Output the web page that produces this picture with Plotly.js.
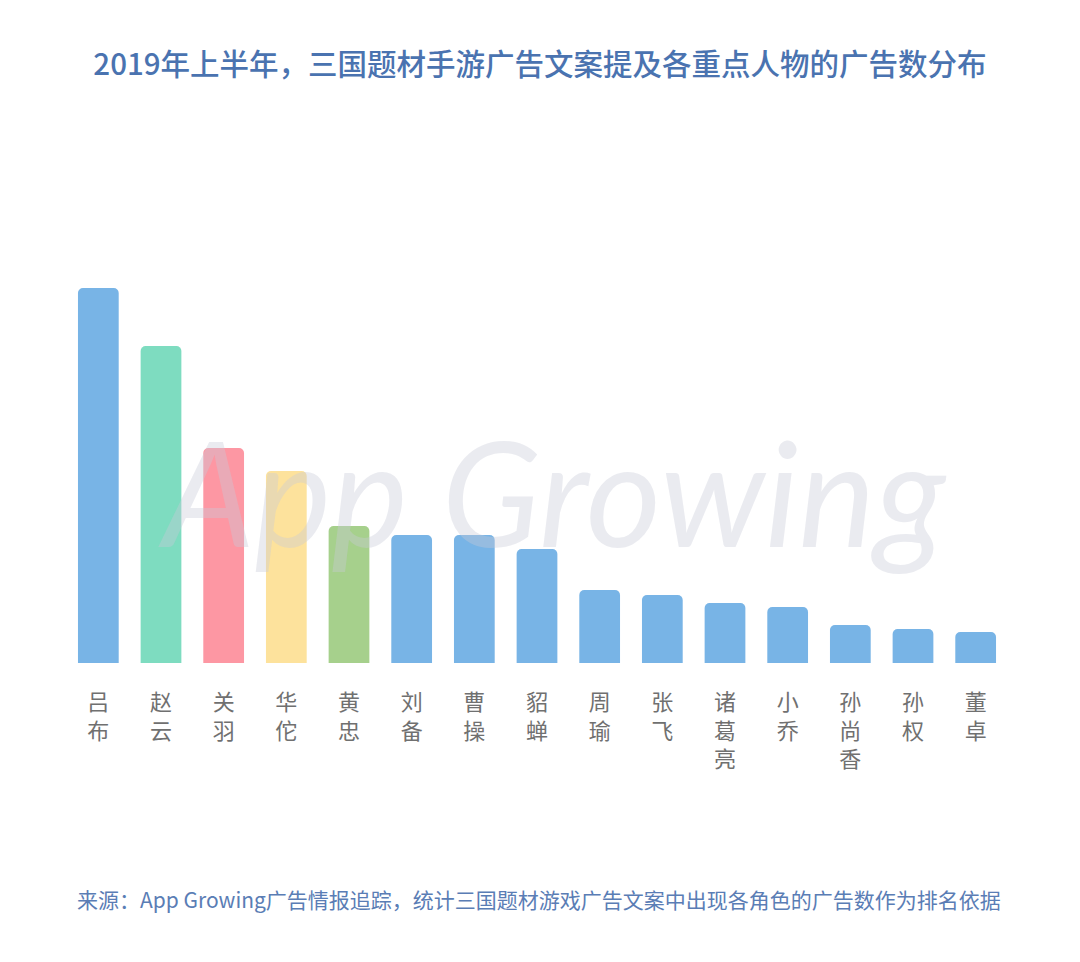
<!DOCTYPE html>
<html>
<head>
<meta charset="utf-8">
<script src="https://cdn.plot.ly/plotly-3.0.1.min.js"></script>
<style>
html,body{margin:0;padding:0;background:#fff;}
#chart{width:1080px;height:962px;}
</style>
</head>
<body>
<div id="chart"></div>
<script>
// Data (relative ad counts)
var characters = ["吕布","赵云","关羽","华佗","黄忠","刘备","曹操","貂蝉","周瑜","张飞","诸葛亮","小乔","孙尚香","孙权","董卓"];
var adCounts = [375, 317, 215, 192, 137, 128, 128, 114, 73, 68, 60, 56, 38, 34, 31];
var barColors = ["#78b4e6","#7edcc0","#fd97a3","#fde29c","#a6d08c","#78b4e6","#78b4e6","#78b4e6","#78b4e6","#78b4e6","#78b4e6","#78b4e6","#78b4e6","#78b4e6","#78b4e6"];
var titleText = "2019年上半年，三国题材手游广告文案提及各重点人物的广告数分布";
var sourceText = "来源：App Growing广告情报追踪，统计三国题材游戏广告文案中出现各角色的广告数作为排名依据";
var watermarkText = "App Growing";

var tickLabels = characters.map(function(n){ return n.split("").join("<br>"); });

var trace = {
  type: "bar",
  x: characters,
  y: adCounts,
  marker: {color: barColors, cornerradius: 5, line: {width: 0}},
  hoverinfo: "x+y"
};

var layout = {
  width: 1080,
  height: 962,
  paper_bgcolor: "#ffffff",
  plot_bgcolor: "#ffffff",
  margin: {l: 67, r: 73, t: 288, b: 299},
  bargap: 0.35,
  showlegend: false,
  font: {family: "Noto Sans CJK SC, sans-serif"},
  title: {
    text: titleText,
    font: {family: "Noto Sans CJK SC, sans-serif", size: 29.5, color: "#4a73b0", weight: 500},
    x: 0.5, xanchor: "center",
    y: 1 - 65/962, yanchor: "middle", yref: "container"
  },
  xaxis: {
    type: "category",
    tickmode: "array",
    tickvals: characters,
    ticktext: tickLabels,
    tickfont: {family: "Noto Sans CJK SC, sans-serif", size: 22, color: "#707070"},
    ticks: "",
    ticklabelstandoff: 24,
    showline: false,
    showgrid: false,
    zeroline: false,
    fixedrange: true
  },
  yaxis: {
    range: [0, 375],
    visible: false,
    showgrid: false,
    zeroline: false,
    fixedrange: true
  },
  annotations: [
    {
      text: "<i>" + watermarkText + "</i>",
      xref: "paper", yref: "paper",
      x: (552 - 67) / 940, y: 0.46, xanchor: "center", yanchor: "middle",
      showarrow: false,
      font: {family: "Lato, sans-serif", size: 145, color: "rgba(200,203,215,0.38)"}
    },
    {
      text: sourceText,
      xref: "paper", yref: "paper",
      x: (75 - 67) / 940, y: -(899 - 663) / 375,
      xanchor: "left", yanchor: "middle",
      showarrow: false,
      font: {family: "Noto Sans CJK SC, sans-serif", size: 21, color: "#5a7db5"}
    }
  ]
};

Plotly.newPlot("chart", [trace], layout, {displayModeBar: false, staticPlot: true});
</script>
</body>
</html>
